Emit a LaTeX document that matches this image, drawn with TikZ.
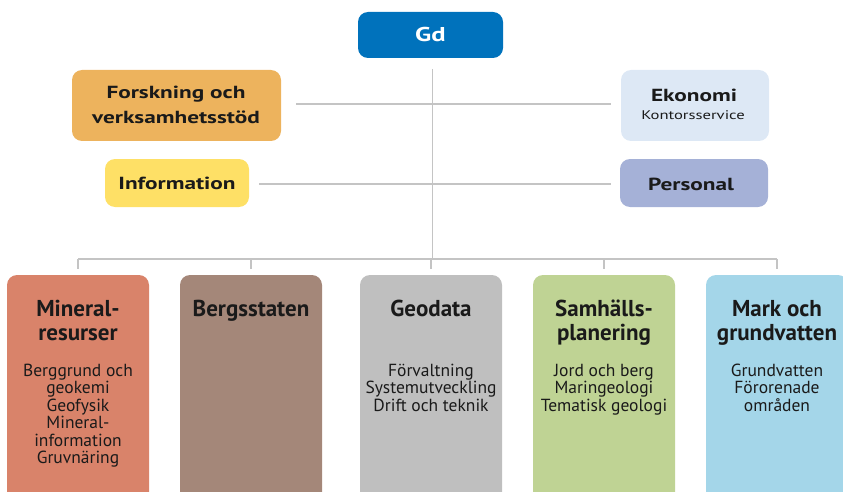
\documentclass[tikz,border=0pt]{standalone}
\usepackage{fontspec}
\setmainfont{PT Sans}
\definecolor{gdblue}{HTML}{0072BC}
\definecolor{cfou}{HTML}{EDB35D}
\definecolor{ceko}{HTML}{DDE8F5}
\definecolor{cinfo}{HTML}{FEE066}
\definecolor{cpers}{HTML}{A5B1D7}
\definecolor{cmin}{HTML}{D9836A}
\definecolor{cberg}{HTML}{A48779}
\definecolor{cgeo}{HTML}{BFBFBF}
\definecolor{csam}{HTML}{BFD394}
\definecolor{cmark}{HTML}{A4D6E9}
\definecolor{linegray}{HTML}{C4C4C4}
\definecolor{txt}{HTML}{1A1A1A}
\begin{document}
\begin{tikzpicture}[x=1pt,y=-1pt,
  box/.style={rounded corners=10pt, draw=none, inner sep=0pt},
  toptxt/.style={font=\bfseries\fontsize{17.5}{25}\selectfont, align=center, inner sep=0pt, text=txt,
    xscale=1.33, transform shape},
  ln/.style={draw=linegray, line width=1.5pt},
  ttl/.style={font=\bfseries\fontsize{23}{24}\selectfont, align=center, anchor=base, inner sep=0pt, text=txt},
  body/.style={font=\fontsize{17.5}{17.5}\selectfont, align=center, anchor=base, inner sep=0pt, text=txt},
  colbox/.style={rounded corners=10pt, draw=none, minimum width=142pt, minimum height=240pt, inner sep=0pt}]
\useasboundingbox (0,0) rectangle (843,492);
\clip (0,0) rectangle (843,492);

% top boxes
\node[box, fill=gdblue, minimum width=145pt, minimum height=46pt] (gd) at (430.5,35) {};
\node[box, fill=cfou, minimum width=209pt, minimum height=71pt] (fou) at (176.5,105.5) {};
\node[box, fill=ceko, minimum width=148pt, minimum height=71pt] (eko) at (695,105.5) {};
\node[box, fill=cinfo, minimum width=144pt, minimum height=48pt] (info) at (177,183) {};
\node[box, fill=cpers, minimum width=148pt, minimum height=48pt] (pers) at (694,183) {};

\node[toptxt, text=white, font=\bfseries\fontsize{20}{24}\selectfont, anchor=base] (tgd) at (430.5,42) {Gd};
\node[toptxt] (tfou) at (176,105) {Forskning och\\verksamhetsstöd};
\node[toptxt, anchor=base] (teko) at (694,102) {Ekonomi};
\node[toptxt, anchor=base, font=\fontsize{12.5}{14}\selectfont] (tkont) at (693,120) {Kontorsservice};
\node[toptxt] (tinfo) at (177,183) {Information};
\node[toptxt] (tpers) at (691,184) {Personal};

% bottom boxes
\node[colbox, fill=cmin] (min) at (78,395) {};
\node[colbox, fill=cberg] (berg) at (251,395) {};
\node[colbox, fill=cgeo] (geo) at (431,395) {};
\node[colbox, fill=csam] (sam) at (604,395) {};
\node[colbox, fill=cmark] (mark) at (777,395) {};

% connectors
\coordinate (vtop) at (432.5,69);
\coordinate (hbar) at (432.5,259);
\coordinate (hl) at (78,259);
\coordinate (hr) at (777,259);
\draw[ln] (vtop) -- (hbar);
\draw[ln] ([xshift=15pt,yshift=1.5pt]fou.east) -- ([xshift=-10pt,yshift=1.5pt]eko.west);
\draw[ln] ([xshift=10pt,yshift=-1pt]info.east) -- ([xshift=-9pt,yshift=-1pt]pers.west);
\draw[ln] (hl) -- (hr);
\foreach \n in {min,berg,geo,sam,mark}{
  \draw[ln] (hl -| \n.north) -- ([yshift=6pt]\n.north);
}

% column titles (anchor = baseline of last line)
\node[ttl] (tmin) at (78,340) {Mineral-\\resurser};
\node[ttl] (tberg) at (251,316) {Bergsstaten};
\node[ttl] (tgeo) at (431,316) {Geodata};
\node[ttl] (tsam) at (604,340) {Samhälls-\\planering};
\node[ttl] (tmark) at (777,340) {Mark och\\grundvatten};

% column bodies (anchor = baseline of last line)
\node[body] (bmin) at (78,463.5) {Berggrund och\\geokemi\\Geofysik\\Mineral-\\information\\Gruvnäring};
\node[body] (bgeo) at (431,411) {Förvaltning\\Systemutveckling\\Drift och teknik};
\node[body] (bsam) at (604,411) {Jord och berg\\Maringeologi\\Tematisk geologi};
\node[body] (bmark) at (777,411) {Grundvatten\\Förorenade\\områden};
\end{tikzpicture}
\end{document}
